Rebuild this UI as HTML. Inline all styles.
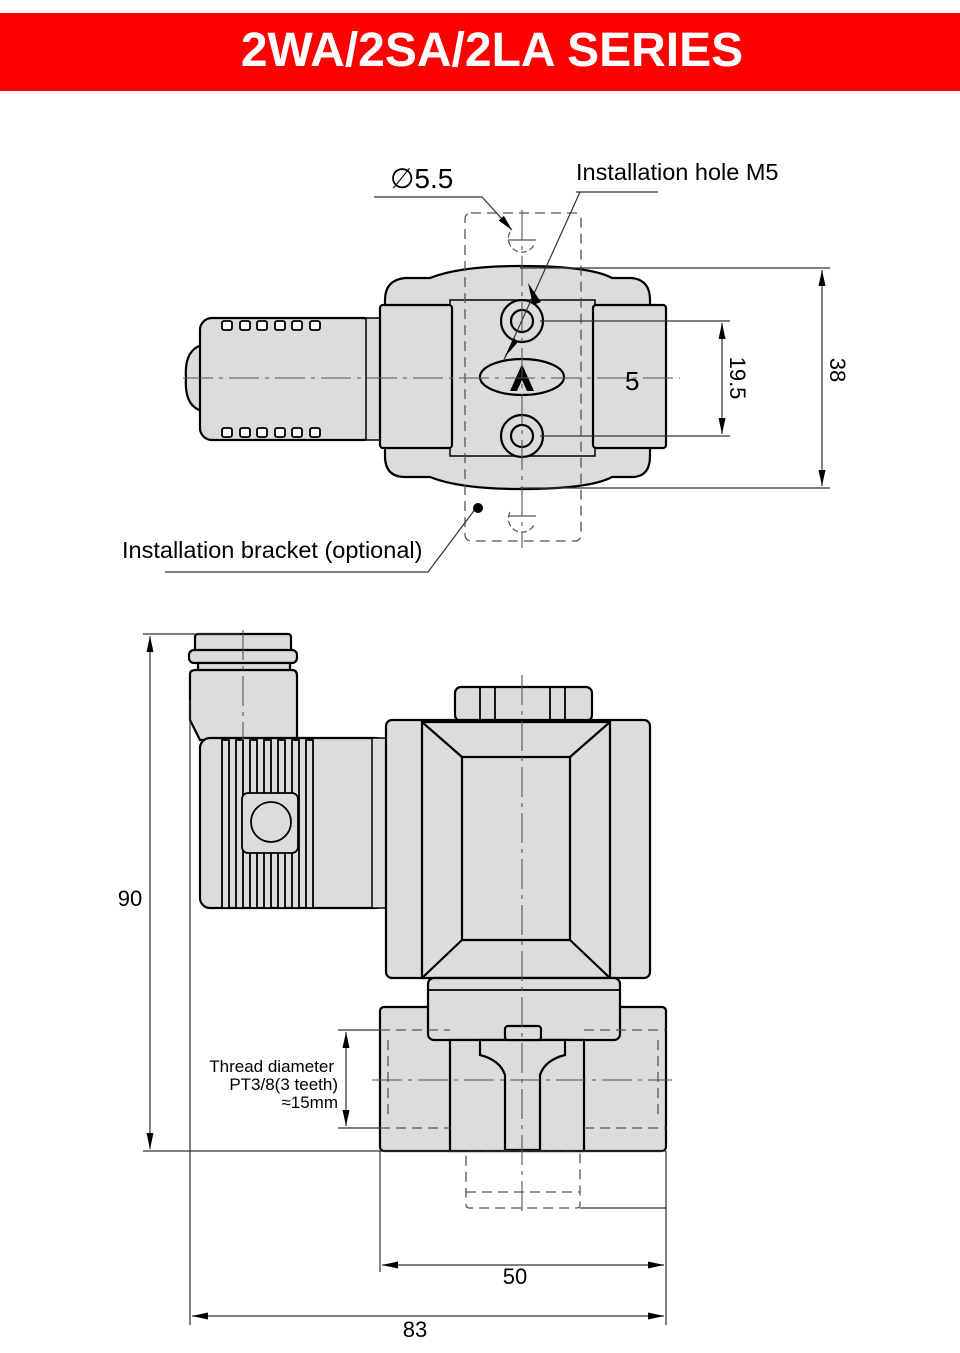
<!DOCTYPE html>
<html><head><meta charset="utf-8"><style>
html,body{margin:0;padding:0;background:#fff;}
svg{display:block;}
text{font-family:"Liberation Sans",sans-serif;}
</style></head><body>
<svg width="960" height="1353" viewBox="0 0 960 1353" xmlns="http://www.w3.org/2000/svg">
<defs>
<marker id="ar" viewBox="0 0 16 8" refX="16" refY="4" markerWidth="16" markerHeight="8" orient="auto-start-reverse" markerUnits="userSpaceOnUse"><path d="M0,0.5 L16,4 L0,7.5 z" fill="#000"/></marker>
</defs>
<rect x="0" y="13" width="960" height="78" fill="#ff0000"/>
<text x="492" y="66" font-size="48" font-weight="bold" fill="#fff" text-anchor="middle">2WA/2SA/2LA SERIES</text>

<g stroke="#000" fill="#dcdcdc" stroke-width="2.2">
<!-- TOP VIEW -->
<path d="M202,345 Q184,350 186,378 Q184,406 202,411 Z"/>
<rect x="200" y="318" width="175" height="122" rx="12"/>
<rect x="366" y="318" width="14" height="122" stroke-width="1.5"/>
<path d="M385,300 Q385,280 405,278 L430,278 Q460,266 520,266 Q590,266 612,278 L632,278 Q650,280 650,300 L650,456 Q650,477 632,477 L612,477 Q590,489 520,489 Q460,489 430,477 L405,477 Q385,477 385,456 Z"/>
<rect x="450" y="300" width="145" height="156" stroke-width="1.5"/>
<rect x="380" y="305" width="72" height="143" rx="3"/>
<rect x="593" y="305" width="73" height="143" rx="3"/>
<circle cx="522" cy="321" r="21"/><circle cx="522" cy="321" r="11"/>
<circle cx="522" cy="436" r="21"/><circle cx="522" cy="436" r="11"/>
<ellipse cx="522" cy="377" rx="42" ry="18"/>
</g>
<g fill="#fff" stroke="#000" stroke-width="1.8">
<rect x="222" y="321" width="10" height="9" rx="2"/><rect x="240" y="321" width="10" height="9" rx="2"/><rect x="257" y="321" width="10" height="9" rx="2"/><rect x="275" y="321" width="10" height="9" rx="2"/><rect x="292" y="321" width="10" height="9" rx="2"/><rect x="310" y="321" width="10" height="9" rx="2"/>
<rect x="222" y="428" width="10" height="9" rx="2"/><rect x="240" y="428" width="10" height="9" rx="2"/><rect x="257" y="428" width="10" height="9" rx="2"/><rect x="275" y="428" width="10" height="9" rx="2"/><rect x="292" y="428" width="10" height="9" rx="2"/><rect x="310" y="428" width="10" height="9" rx="2"/>
</g>
<path d="M510,391 L522,364 L534,391 L527,391 L522,380 L517,391 Z" fill="#000"/>
<g stroke="#555" fill="none" stroke-width="1.3" stroke-dasharray="10,6">
<rect x="465" y="213" width="116" height="328" rx="6"/>
</g>
<g stroke="#555" fill="none" stroke-width="1.1" stroke-dasharray="30,6,4,6">
<line x1="183" y1="378" x2="680" y2="378"/>
<line x1="522" y1="210" x2="522" y2="548"/>
</g>
<g stroke="#555" fill="none" stroke-width="1.2">
<path d="M510,232 A12,12 0 1 0 534,245" stroke-dasharray="6,3"/>
<path d="M510,512 A12,12 0 1 0 534,525" stroke-dasharray="6,3"/>
<line x1="508" y1="240" x2="536" y2="240"/><line x1="508" y1="516" x2="536" y2="516"/>
</g>
<g stroke="#333" stroke-width="1.2" fill="none">
<line x1="520" y1="268" x2="830" y2="268"/>
<line x1="520" y1="488" x2="830" y2="488"/>
<line x1="540" y1="321" x2="730" y2="321"/>
<line x1="540" y1="436" x2="730" y2="436"/>
<line x1="822" y1="270" x2="822" y2="486" marker-start="url(#ar)" marker-end="url(#ar)"/>
<line x1="722" y1="323" x2="722" y2="434" marker-start="url(#ar)" marker-end="url(#ar)"/>
<polyline points="374,197 482,197 512,230" marker-end="url(#ar)"/>
<line x1="576" y1="192" x2="658" y2="192"/>
<line x1="580" y1="192" x2="504" y2="360"/>
<polyline points="165,572 428,572 476,508"/>
</g>
<path d="M528,283 L541,302 L533,305 Z" fill="#000"/>
<path d="M514,338 L504,358 L518,342 Z" fill="#000"/>
<circle cx="478" cy="508" r="5" fill="#000"/>
<text x="390" y="188" font-size="28" fill="#000">∅5.5</text>
<text x="576" y="180" font-size="23.5" fill="#000">Installation hole M5</text>
<text x="122" y="558" font-size="23.5" fill="#000">Installation bracket (optional)</text>
<text x="625" y="390" font-size="26" fill="#000">5</text>
<text transform="translate(730,378) rotate(90)" font-size="22" text-anchor="middle" fill="#000">19.5</text>
<text transform="translate(830,370) rotate(90)" font-size="22" text-anchor="middle" fill="#000">38</text>

<!-- FRONT VIEW -->
<g stroke="#000" fill="#dcdcdc" stroke-width="2.2">
<rect x="195" y="634" width="96" height="20" rx="3"/>
<rect x="189" y="650" width="108" height="13" rx="5"/>
<rect x="198" y="663" width="92" height="8"/>
<path d="M190,674 Q190,670 196,670 L292,670 Q297,670 297,676 L297,740 L200,740 L190,720 Z"/>
<rect x="200" y="738" width="185" height="170" rx="10"/>
<rect x="372" y="738" width="14" height="170" stroke-width="1.5"/>
<rect x="455" y="687" width="137" height="34" rx="6"/>
<rect x="386" y="720" width="264" height="258" rx="6"/>
<path d="M422,722 L610,722 L610,978 L422,978 Z"/>
<path d="M462,757 L570,757 L570,940 L462,940 Z"/>
<path d="M422,722 L462,757 M610,722 L570,757 M422,978 L462,940 M610,978 L570,940" fill="none"/>
<rect x="380" y="1007" width="286" height="144" rx="4"/>
<rect x="428" y="978" width="192" height="62" rx="6"/>
<rect x="450" y="1040" width="134" height="111" fill="#dcdcdc"/>
<path d="M480,1040 L565,1040 L565,1055 Q545,1060 540,1075 L540,1150 L505,1150 L505,1075 Q500,1060 480,1055 Z"/>
<rect x="505" y="1026" width="36" height="14" rx="3"/>
</g>
<g stroke="#000" stroke-width="1.8" fill="none">
<line x1="480" y1="687" x2="480" y2="721"/><line x1="495" y1="687" x2="495" y2="721"/>
<line x1="550" y1="687" x2="550" y2="721"/><line x1="565" y1="687" x2="565" y2="721"/>
<line x1="428" y1="990" x2="620" y2="990"/>
<line x1="450" y1="1040" x2="450" y2="1151"/><line x1="584" y1="1040" x2="584" y2="1151"/>
</g>
<g stroke="#000" stroke-width="1.8" fill="#dcdcdc">
<rect x="222" y="740" width="7" height="168"/><rect x="236" y="740" width="7" height="168"/>
<rect x="250" y="740" width="7" height="168"/><rect x="264" y="740" width="7" height="168"/>
<rect x="278" y="740" width="7" height="168"/><rect x="292" y="740" width="7" height="168"/>
<rect x="306" y="740" width="7" height="168"/>
<rect x="242" y="793" width="56" height="60" rx="6"/>
<circle cx="271" cy="822" r="20"/>
</g>
<g stroke="#555" fill="none" stroke-width="1.3" stroke-dasharray="10,6">
<path d="M380,1030 L450,1030 M380,1128 L450,1128 M388,1040 L388,1120 M584,1030 L666,1030 M584,1128 L666,1128 M658,1040 L658,1120"/>
<rect x="466" y="1151" width="114" height="57" rx="3"/>
<line x1="466" y1="1192" x2="580" y2="1192"/>
</g>
<g stroke="#555" fill="none" stroke-width="1.1" stroke-dasharray="30,6,4,6">
<line x1="522" y1="675" x2="522" y2="1212"/>
<line x1="243" y1="630" x2="243" y2="740"/>
<line x1="372" y1="1080" x2="672" y2="1080"/>
</g>
<g stroke="#333" stroke-width="1.2" fill="none">
<line x1="143" y1="634" x2="240" y2="634"/>
<line x1="143" y1="1151" x2="666" y2="1151"/>
<line x1="150" y1="636" x2="150" y2="1149" marker-start="url(#ar)" marker-end="url(#ar)"/>
<line x1="190" y1="700" x2="190" y2="1325"/>
<line x1="380" y1="1151" x2="380" y2="1272"/>
<line x1="666" y1="1151" x2="666" y2="1325"/>
<line x1="580" y1="1208" x2="666" y2="1208"/>
<line x1="382" y1="1265" x2="664" y2="1265" marker-start="url(#ar)" marker-end="url(#ar)"/>
<line x1="192" y1="1316" x2="664" y2="1316" marker-start="url(#ar)" marker-end="url(#ar)"/>
<line x1="338" y1="1030" x2="380" y2="1030"/>
<line x1="338" y1="1128" x2="380" y2="1128"/>
<line x1="346" y1="1032" x2="346" y2="1126" marker-start="url(#ar)" marker-end="url(#ar)"/>
</g>
<text x="130" y="906" font-size="22" text-anchor="middle" fill="#000">90</text>
<text x="515" y="1284" font-size="22" text-anchor="middle" fill="#000">50</text>
<text x="415" y="1337" font-size="22" text-anchor="middle" fill="#000">83</text>
<g font-size="17" text-anchor="end" fill="#000">
<text x="334" y="1072">Thread diameter</text>
<text x="338" y="1090">PT3/8(3 teeth)</text>
<text x="338" y="1108">≈15mm</text>
</g>
</svg>
</body></html>
